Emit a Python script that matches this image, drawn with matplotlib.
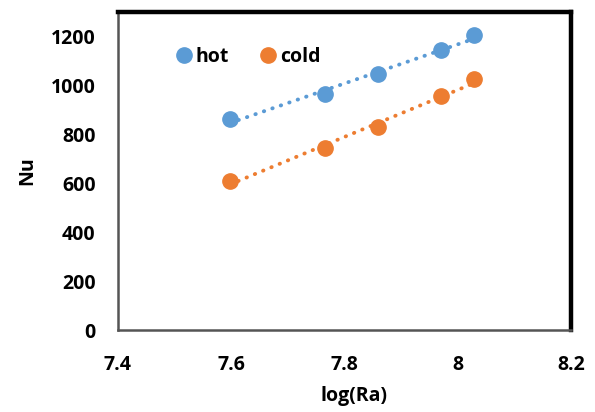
import numpy as np
import matplotlib
matplotlib.use('Agg')
import matplotlib.pyplot as plt
from matplotlib.lines import Line2D

plt.rcParams['font.family'] = ['Open Sans', 'DejaVu Sans']
plt.rcParams['font.weight'] = 'bold'

# data
log_ra = [7.598, 7.766, 7.859, 7.971, 8.029]
nu_hot = [861, 963, 1045, 1143, 1205]
nu_cold = [611, 742, 828, 955, 1025]

x_ticks = [7.4, 7.6, 7.8, 8.0, 8.2]
x_ticklabels = ['7.4', '7.6', '7.8', '8', '8.2']
y_ticks = [0, 200, 400, 600, 800, 1000, 1200]

HOT = '#5B9BD5'
COLD = '#ED7D31'
FS = 14

fig = plt.figure(figsize=(5.95, 4.12), dpi=100)
ax = fig.add_axes([0.198, 0.199, 0.762, 0.772])

x = np.array(log_ra)
for y, c, lab in [(nu_hot, HOT, 'hot'), (nu_cold, COLD, 'cold')]:
    # linear trendline, dotted like Excel
    k, b = np.polyfit(x, y, 1)
    ax.plot([x.min(), x.max()], [k * x.min() + b, k * x.max() + b], color=c,
            linestyle=(0, (0.1, 2.2)), linewidth=2.8, dash_capstyle='round', zorder=2)
    ax.plot(x, y, 'o', color=c, markersize=11, zorder=3, label=lab)

ax.set_xlim(7.4, 8.2)
ax.set_ylim(0, 1300)
ax.set_xticks(x_ticks)
ax.set_xticklabels(x_ticklabels)
ax.set_yticks(y_ticks)
ax.tick_params(axis='x', length=0, labelsize=FS, pad=18)
ax.tick_params(axis='y', length=0, labelsize=FS, pad=16)
for lbl in ax.get_xticklabels() + ax.get_yticklabels():
    lbl.set_fontweight('bold')

ax.set_xlabel('log(Ra)', fontsize=FS, fontweight='bold')
ax.xaxis.set_label_coords(0.52, -0.175)
ax.set_ylabel('Nu', fontsize=FS, fontweight='bold', labelpad=10)

# box: thick black top/right, thin gray left/bottom
for s in ['top', 'right']:
    ax.spines[s].set_color('black')
    ax.spines[s].set_linewidth(3.2)
for s in ['left', 'bottom']:
    ax.spines[s].set_color('#555555')
    ax.spines[s].set_linewidth(1.8)

handles = [Line2D([0], [0], marker='o', color=HOT, linestyle='none', markersize=11, label='hot'),
           Line2D([0], [0], marker='o', color=COLD, linestyle='none', markersize=11, label='cold')]
ax.legend(handles=handles, loc='center left', bbox_to_anchor=(0.085, 0.858), ncol=2,
          frameon=False, prop={'size': FS, 'weight': 'bold'}, handletextpad=0.1,
          columnspacing=1.55, handlelength=1.0)

fig.savefig('out.png', dpi=100)
